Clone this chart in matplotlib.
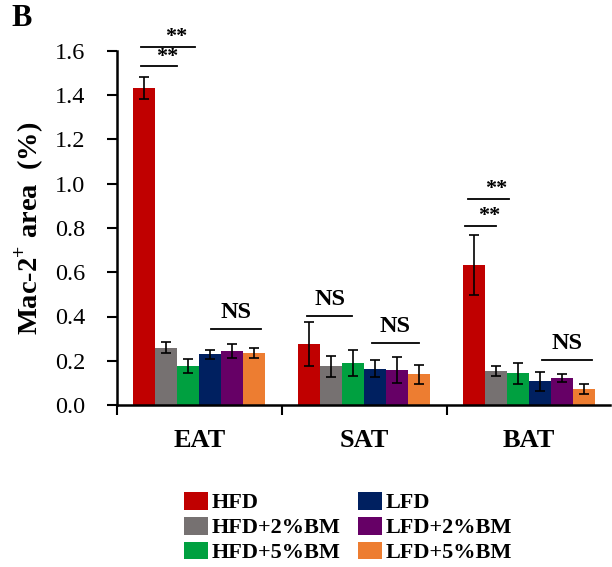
import matplotlib
matplotlib.use("Agg")
import matplotlib.pyplot as plt
import numpy as np
from matplotlib.patches import Patch

plt.rcParams['font.family'] = ['Liberation Serif', 'DejaVu Serif']
plt.rcParams['mathtext.fontset'] = 'custom'
plt.rcParams['mathtext.rm'] = 'Liberation Serif'
plt.rcParams['mathtext.bf'] = 'Liberation Serif:bold'

tissues = ["EAT", "SAT", "BAT"]
groups = ["HFD", "HFD+2%BM", "HFD+5%BM", "LFD", "LFD+2%BM", "LFD+5%BM"]
colors = ["#C00000", "#767171", "#00A040", "#002060", "#660066", "#ED7D31"]

# values per group: [EAT, SAT, BAT]
hfd = [1.433, 0.276, 0.634]
hfd_2bm = [0.258, 0.175, 0.155]
hfd_5bm = [0.176, 0.190, 0.143]
lfd = [0.230, 0.164, 0.107]
lfd_2bm = [0.244, 0.158, 0.122]
lfd_5bm = [0.234, 0.139, 0.072]

hfd_err = [0.048, 0.098, 0.136]
hfd_2bm_err = [0.025, 0.048, 0.023]
hfd_5bm_err = [0.031, 0.060, 0.047]
lfd_err = [0.020, 0.038, 0.042]
lfd_2bm_err = [0.030, 0.057, 0.017]
lfd_5bm_err = [0.022, 0.043, 0.022]

values = [hfd, hfd_2bm, hfd_5bm, lfd, lfd_2bm, lfd_5bm]
errors = [hfd_err, hfd_2bm_err, hfd_5bm_err, lfd_err, lfd_2bm_err, lfd_5bm_err]

fig = plt.figure(figsize=(6.12, 5.67), dpi=100)
ax = fig.add_axes([117/612, 1-405/567, (610-117)/612, (405-51)/567])

x = np.arange(len(tissues))
bw = 0.1335
for i, (v, e, c, g) in enumerate(zip(values, errors, colors, groups)):
    pos = x + (i - 2.5) * bw
    ax.bar(pos, v, width=bw, color=c, label=g, linewidth=0)
    ax.errorbar(pos, v, yerr=e, fmt='none', ecolor='black', elinewidth=1.2,
                capsize=3.5, capthick=1.2)

ax.set_xlim(-0.5, 2.49)
ax.set_ylim(0, 1.6)
ticks = np.arange(0, 1.61, 0.2)
ax.set_yticks(ticks)
ax.set_yticklabels([f"{t:.1f}" for t in ticks], fontsize=17.5)
ax.set_xticks(x)
ax.set_xticklabels(tissues, fontsize=19, fontweight='bold')
ax.set_xticks([-0.5, 0.5, 1.5], minor=True)
ax.tick_params(axis='x', which='major', length=0, pad=17)
ax.tick_params(axis='x', which='minor', length=7, width=1.5, direction='out')
ax.tick_params(axis='y', length=7, width=1.5, direction='out', pad=16)
for s in ['top', 'right']:
    ax.spines[s].set_visible(False)
for s in ['left', 'bottom']:
    ax.spines[s].set_linewidth(1.8)

ax.set_ylabel(r"Mac-2$^{\mathbf{+}}$ area  (%)", fontsize=20.5, fontweight='bold', labelpad=6)

def sig(x0, x1, y, txt, size=14, dy=0.035):
    ax.plot([x0, x1], [y, y], color='black', lw=1.3, clip_on=False)
    ax.text((x0 + x1) / 2 + (0.05 if txt == '**' else 0), y + dy, txt,
            ha='center', va='center', fontsize=size, fontweight='bold', clip_on=False)

sig(-0.355, -0.136, 1.53, "**", 16, 0.045)
sig(-0.355, -0.027, 1.617, "**", 16, 0.045)
sig(0.07, 0.371, 0.342, "NS", 17.5, 0.075)
sig(0.653, 0.926, 0.402, "NS", 17.5, 0.075)
sig(1.044, 1.332, 0.279, "NS", 17.5, 0.075)
sig(2.08, 2.383, 0.205, "NS", 17.5, 0.075)
sig(1.609, 1.801, 0.808, "**", 16, 0.045)
sig(1.629, 1.876, 0.931, "**", 16, 0.045)

fig.text(22/612, 1-18/567, "B", fontsize=22, fontweight='bold', ha='center', va='center')

handles = [Patch(facecolor=c, label=g) for c, g in zip(colors, groups)]
leg = fig.legend(handles=handles, loc='upper left', bbox_to_anchor=(175/612, 1-483/567),
                 ncol=2, frameon=False, prop={'weight': 'bold', 'size': 16},
                 handlelength=1.07, handleheight=0.85, handletextpad=0.18,
                 columnspacing=0.8, labelspacing=0.15, borderaxespad=0)

fig.savefig("out.png", dpi=100)
